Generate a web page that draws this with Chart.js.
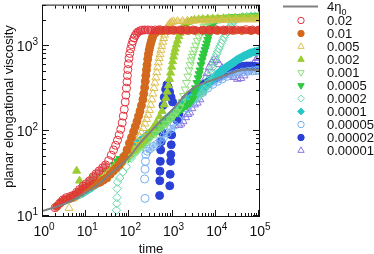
<!DOCTYPE html>
<html>
<head>
<meta charset="utf-8">
<script src="https://cdn.jsdelivr.net/npm/chart.js"></script>
<style>
    html, body { margin: 0; background: #fff; }
    #wrap { width: 374px; height: 254px; }
</style>
</head>
<body>
<div id="wrap"><canvas id="chart" width="374" height="254"></canvas></div>
<script>
// [time, planar elongational viscosity]
const envelope = [[1, 11.5], [2, 12.8], [3, 13.8], [5, 15.5], [10, 19], [20, 24], [30, 29], [50, 36], [100, 50], [176, 72], [300, 97], [500, 128], [750, 155], [1000, 178], [1750, 250], [3000, 320], [5000, 365], [10000, 410], [20000, 470], [50000, 530], [100000, 525]];

const s002 = [[1.9, 12.5], [2.4, 14], [2.9, 15.5], [3.5, 16.5], [4.3, 17], [5, 17.5], [6, 19], [7, 20.5], [8.5, 22.5], [10, 24], [12, 26], [14.5, 29], [17, 31.5], [20, 34], [24, 37], [28, 40], [33, 45], [38, 52], [43, 60], [48, 68], [53, 78], [58, 90], [63, 105], [68, 125], [72, 150], [76, 180], [80, 220], [83, 265], [86, 320], [88, 380], [90, 450], [92, 530], [95, 620], [98, 720], [102, 820], [107, 930], [113, 1040], [120, 1150], [128, 1250], [137, 1340], [148, 1420], [162, 1480], [180, 1520], [200, 1540], [230, 1550], [270, 1550], [320, 1545], [400, 1550], [500, 1555], [700, 1550], [1000, 1545], [1500, 1550], [2000, 1555], [3000, 1550], [5000, 1545], [7000, 1550], [10000, 1555], [15000, 1550], [20000, 1545], [30000, 1550], [50000, 1555], [70000, 1550], [100000, 1550]];

const s001 = [[2.1, 13], [2.6, 14.5], [3.2, 15.5], [4, 16], [4.7, 16.5], [5.5, 17.5], [6.5, 18.5], [8, 20], [10, 21.5], [12.5, 22.5], [15, 23.5], [18, 24.5], [21, 25], [25, 26.5], [30, 28], [36, 31], [43, 34], [50, 37], [58, 40], [66, 44], [75, 50], [88, 60], [100, 72], [112, 84], [125, 98], [137, 113], [150, 130], [163, 150], [176, 172], [190, 200], [205, 235], [215, 275], [225, 325], [233, 385], [240, 450], [248, 525], [255, 600], [265, 700], [275, 800], [287, 900], [300, 1000], [315, 1100], [330, 1200], [345, 1290], [360, 1360], [380, 1420], [400, 1460], [425, 1490], [450, 1510], [500, 1525], [600, 1525], [800, 1530], [1100, 1535], [1600, 1530], [2300, 1525], [3300, 1530], [5000, 1535], [7500, 1530], [11000, 1530], [16000, 1525], [25000, 1530], [40000, 1530], [65000, 1525], [100000, 1530]];

const s0005 = [[4, 12.4], [5, 16], [6.5, 17.5], [8, 19], [10, 20.5], [13, 22], [16, 24], [20, 26], [25, 28], [30, 30.5], [37, 33], [45, 36], [55, 39], [65, 43], [75, 47], [88, 52], [100, 57], [115, 63], [130, 70], [150, 78], [170, 86], [190, 96], [210, 108], [230, 122], [250, 138], [270, 155], [290, 176], [310, 203], [330, 235], [350, 275], [370, 320], [390, 370], [410, 425], [430, 490], [450, 560], [470, 640], [490, 720], [510, 800], [535, 900], [560, 1000], [590, 1120], [620, 1240], [650, 1360], [690, 1500], [740, 1640], [800, 1760], [870, 1860], [950, 1920], [1050, 1950], [1300, 1960], [1700, 1970], [2200, 1980], [3000, 1990], [4000, 2000], [5500, 2000], [7500, 2010], [10000, 2020], [14000, 2030], [20000, 2030], [30000, 2040], [45000, 2050], [70000, 2050], [100000, 2060]];

const s0002 = [[6, 34], [7, 26], [8, 21], [10, 22], [13, 23.5], [17, 25.5], [22, 28], [28, 31], [35, 34], [45, 38], [60, 43], [80, 48], [100, 53], [130, 60], [170, 68], [220, 78], [280, 92], [350, 108], [420, 125], [500, 148], [570, 172], [640, 205], [700, 245], [750, 290], [800, 345], [850, 410], [900, 485], [950, 570], [1000, 660], [1050, 750], [1100, 840], [1150, 930], [1220, 1040], [1300, 1160], [1400, 1300], [1500, 1430], [1650, 1580], [1800, 1710], [2000, 1820], [2300, 1920], [2700, 1990], [3200, 2030], [4000, 2060], [5000, 2080], [6500, 2100], [8500, 2110], [11000, 2120], [15000, 2130], [20000, 2140], [28000, 2150], [40000, 2160], [60000, 2170], [100000, 2180]];

const s0001 = [[9, 22], [12, 26], [15, 29], [18, 27], [22, 30], [27, 33], [33, 35], [40, 34], [55, 39], [75, 44], [100, 50], [140, 57], [200, 66], [280, 78], [400, 93], [550, 108], [700, 122], [870, 138], [1050, 152], [1250, 168], [1480, 190], [1650, 220], [1800, 260], [1950, 310], [2100, 370], [2250, 440], [2400, 520], [2550, 600], [2700, 680], [2850, 750], [3000, 820], [3200, 910], [3450, 1020], [3750, 1150], [4050, 1280], [4400, 1410], [4800, 1540], [5300, 1680], [5900, 1810], [6600, 1920], [7500, 2010], [8500, 2060], [10000, 2090], [13000, 2110], [17000, 2130], [22000, 2150], [30000, 2160], [40000, 2170], [55000, 2180], [75000, 2190], [100000, 2200]];

const s00005 = [[18, 25], [22, 29], [27, 33], [32, 31], [38, 36], [45, 40], [52, 44], [60, 47], [68, 42], [75, 50], [85, 53], [95, 48], [110, 55], [130, 60], [170, 66], [230, 75], [320, 88], [450, 102], [600, 117], [800, 133], [1050, 150], [1350, 168], [1700, 185], [2100, 200], [2500, 215], [2950, 240], [3200, 280], [3400, 320], [3650, 370], [3900, 420], [4100, 470], [4300, 520], [4550, 600], [4800, 680], [5050, 750], [5300, 820], [5600, 900], [5900, 980], [6200, 1080], [6500, 1190], [6800, 1310], [7100, 1440], [7500, 1580], [8000, 1730], [8700, 1880], [9500, 1980], [10500, 2050], [12000, 2100], [15000, 2140], [20000, 2170], [27000, 2190], [36000, 2210], [50000, 2220], [70000, 2240], [100000, 2250]];

const s00002 = [[50, 11.7], [51, 14], [52, 16.5], [52, 21], [53, 25], [60, 28], [70, 33], [85, 38], [110, 48], [150, 58], [200, 68], [300, 86], [450, 108], [700, 132], [1000, 155], [1500, 185], [2200, 210], [3000, 232], [4000, 255], [5000, 285], [5600, 310], [6200, 350], [6800, 400], [7300, 450], [7800, 500], [8300, 560], [8800, 620], [9300, 680], [9800, 740], [10400, 800], [11000, 860], [11700, 930], [12500, 1000], [13400, 1080], [14400, 1170], [15500, 1270], [16800, 1380], [18200, 1490], [19800, 1600], [21600, 1710], [23800, 1830], [26500, 1950], [30000, 2060], [35000, 2150], [42000, 2210], [52000, 2240], [65000, 2260], [80000, 2270], [100000, 2280]];

const s00001 = [[3, 15], [5, 16.5], [8, 18.5], [12, 21], [20, 25], [30, 30], [45, 37], [70, 47], [100, 58], [115, 64], [130, 68], [150, 72], [175, 76], [200, 80], [250, 88], [300, 95], [370, 103], [450, 112], [550, 122], [650, 132], [800, 145], [1000, 160], [1250, 178], [1500, 195], [1800, 212], [2200, 230], [2700, 248], [3300, 268], [4000, 290], [5000, 318], [6200, 350], [7600, 390], [9200, 430], [11000, 470], [13500, 510], [16500, 550], [20000, 590], [24500, 630], [30000, 680], [36000, 720], [44000, 760], [53000, 795], [64000, 830], [78000, 855], [100000, 880]];

const s000005 = [[230, 16.1], [225, 27.3], [230, 35.5], [235, 44], [240, 53], [260, 58], [300, 62], [360, 66], [430, 70], [520, 77], [620, 85], [750, 95], [900, 105], [1100, 117], [1350, 135], [1700, 158], [2200, 185], [2900, 215], [3800, 250], [5000, 285], [6500, 320], [8500, 355], [11000, 385], [14000, 410], [18000, 440], [24000, 460], [32000, 480], [42000, 495], [55000, 505], [70000, 510], [85000, 515], [100000, 520]];

const s000002 = [[500, 17.4], [505, 26], [510, 33.7], [520, 44], [530, 60], [545, 75], [570, 97], [860, 22.7], [880, 31], [900, 44], [910, 53], [930, 69], [950, 90], [600, 200], [640, 250], [690, 310], [740, 350], [790, 330], [850, 290], [920, 250], [1000, 220], [1100, 150], [1250, 135], [1400, 160], [1550, 190], [1750, 215], [2000, 235], [2300, 250], [2700, 270], [3200, 290], [3800, 310], [4500, 330], [5300, 350], [6200, 370], [7300, 390], [8600, 410], [10000, 425], [12000, 445], [14500, 470], [17500, 495], [21000, 520], [25000, 540], [30000, 555], [36000, 565], [43000, 575], [52000, 580], [62000, 580], [75000, 575], [88000, 565], [100000, 560]];

const s000001 = [[1400, 117], [1550, 122], [1750, 130], [2000, 145], [2250, 158], [2500, 165], [2800, 185], [3200, 205], [3700, 215], [4300, 235], [4800, 290], [5300, 350], [5800, 420], [6300, 480], [7000, 560], [8000, 640], [9000, 690], [10500, 680], [12000, 610], [14000, 550], [17000, 500], [21000, 460], [26000, 430], [32000, 410], [38000, 420], [45000, 450], [55000, 500], [65000, 560], [75000, 620], [85000, 680], [95000, 740], [100000, 720]];

const rateLabels = ["0.02", "0.01", "0.005", "0.002", "0.001", "0.0005", "0.0002", "0.0001", "0.00005", "0.00002", "0.00001"];
const rateSeries = [s002, s001, s0005, s0002, s0001, s00005, s00002, s00001, s000005, s000002, s000001];
const xDecades = [0, 1, 2, 3, 4, 5];
const yDecades = [1, 2, 3];

const FONT = '"Liberation Sans", Arial, Helvetica, sans-serif';

const looks = [
    { color: "#e0323c", shape: "circle", turn: 0, filled: false, size: 4, band: 6 },
    { color: "#d2691e", shape: "circle", turn: 0, filled: true, size: 4, band: 6 },
    { color: "#dcc050", shape: "triangle", turn: 0, filled: false, size: 4.6, band: 5 },
    { color: "#9acd32", shape: "triangle", turn: 0, filled: true, size: 4.6, band: 6 },
    { color: "#8ce07a", shape: "triangle", turn: 180, filled: false, size: 4.6, band: 5 },
    { color: "#2ec840", shape: "triangle", turn: 180, filled: true, size: 4.6, band: 6 },
    { color: "#66d8aa", shape: "rectRot", turn: 0, filled: false, size: 4.2, band: 5 },
    { color: "#26c6c8", shape: "rectRot", turn: 0, filled: true, size: 4.2, band: 8 },
    { color: "#74aef0", shape: "circle", turn: 0, filled: false, size: 4, band: 4 },
    { color: "#2a40d6", shape: "circle", turn: 0, filled: true, size: 4, band: 9 },
    { color: "#8c74e0", shape: "triangle", turn: 0, filled: false, size: 4.6, band: 0 }
];

function toPoints(pairs) {
    return pairs.map(([x, y]) => ({ x, y }));
}

// thick band only between neighbouring points on a flat stretch
function bandColor(ctx) {
    const dx = ctx.p1.x - ctx.p0.x;
    const dy = ctx.p1.y - ctx.p0.y;
    const flat = dx > 0 && Math.abs(dy) <= dx * 1.2 && Math.hypot(dx, dy) < 30;
    return flat ? undefined : "rgba(0,0,0,0)";
}

const datasets = [{
    label: "4η0",
    data: toPoints(envelope),
    borderColor: "#808080",
    borderWidth: 2,
    pointRadius: 0,
    cubicInterpolationMode: "monotone",
    clip: 0
}];

rateSeries.forEach((series, i) => {
    const look = looks[i];
    datasets.push({
        label: rateLabels[i],
        data: toPoints(series),
        borderColor: look.filled ? look.color : look.color + "a0",
        borderWidth: look.band,
        borderCapStyle: "round",
        borderJoinStyle: "round",
        showLine: look.band > 0,
        segment: { borderColor: bandColor },
        pointStyle: look.shape,
        pointRotation: look.turn,
        pointRadius: look.size,
        pointBorderWidth: 1,
        pointBorderColor: look.color,
        pointBackgroundColor: look.filled ? look.color : "rgba(0,0,0,0)",
        clip: 0
    });
});

function powerLabel(ctx, exp, x, baseline, align) {
    ctx.font = `14px ${FONT}`;
    const wBase = ctx.measureText("10").width;
    ctx.font = `10px ${FONT}`;
    const wExp = ctx.measureText(String(exp)).width;
    const left = align === "right" ? x - wBase - wExp : x - (wBase + wExp) / 2;
    ctx.textAlign = "left";
    ctx.textBaseline = "alphabetic";
    ctx.font = `14px ${FONT}`;
    ctx.fillText("10", left, baseline);
    ctx.font = `10px ${FONT}`;
    ctx.fillText(String(exp), left + wBase, baseline - 6);
}

const frame = {
    id: "frame",
    afterDatasetsDraw(chart) {
        const { ctx, chartArea: a, scales: { x, y } } = chart;
        ctx.save();
        ctx.strokeStyle = "#111";
        ctx.lineWidth = 1;
        ctx.strokeRect(a.left - 0.5, a.top - 0.5, a.right - a.left + 1, a.bottom - a.top + 1);

        ctx.beginPath();
        for (let e = xDecades[0]; e <= xDecades[xDecades.length - 1]; e++) {
            for (let m = 1; m <= 9; m++) {
                const v = m * 10 ** e;
                if (v > x.max) break;
                const px = Math.round(x.getPixelForValue(v)) - 0.5;
                const len = m === 1 ? 6 : 3;
                ctx.moveTo(px, a.bottom); ctx.lineTo(px, a.bottom - len);
                ctx.moveTo(px, a.top); ctx.lineTo(px, a.top + len);
            }
        }
        for (let e = yDecades[0]; e <= yDecades[yDecades.length - 1]; e++) {
            for (let m = 1; m <= 9; m++) {
                const v = m * 10 ** e;
                if (v > y.max) break;
                const py = Math.round(y.getPixelForValue(v)) - 0.5;
                const len = m === 1 ? 6 : 3;
                ctx.moveTo(a.left, py); ctx.lineTo(a.left + len, py);
                ctx.moveTo(a.right, py); ctx.lineTo(a.right - len, py);
            }
        }
        ctx.stroke();

        ctx.fillStyle = "#111";
        xDecades.forEach(e => powerLabel(ctx, e, x.getPixelForValue(10 ** e) + 1, 235.5, "center"));
        yDecades.forEach(e => powerLabel(ctx, e, 38, y.getPixelForValue(10 ** e) + 5, "right"));

        ctx.font = `13px ${FONT}`;
        ctx.textAlign = "center";
        ctx.textBaseline = "alphabetic";
        ctx.fillText("time", (a.left + a.right) / 2, 252.5);
        ctx.save();
        ctx.translate(12.5, 106.5);
        ctx.rotate(-Math.PI / 2);
        ctx.fillText("planar elongational viscosity", 0, 0);
        ctx.restore();

        // key
        ctx.strokeStyle = "#808080";
        ctx.lineWidth = 2;
        ctx.beginPath();
        ctx.moveTo(283, 6.5); ctx.lineTo(318, 6.5);
        ctx.stroke();
        ctx.textAlign = "left";
        ctx.font = `13px ${FONT}`;
        ctx.fillText("4η", 327, 10.5);
        const w = ctx.measureText("4η").width;
        ctx.font = `9px ${FONT}`;
        ctx.fillText("0", 327 + w, 14.5);

        ctx.font = `13px ${FONT}`;
        rateLabels.forEach((label, i) => {
            const look = looks[i];
            const cy = 7.5 + 13 * (i + 1);
            ctx.fillStyle = look.filled ? look.color : "rgba(0,0,0,0)";
            ctx.strokeStyle = look.color;
            ctx.lineWidth = 1;
            Chart.helpers.drawPoint(ctx, {
                pointStyle: look.shape,
                rotation: look.turn,
                radius: look.size * 0.8,
                borderWidth: 1
            }, 301, cy);
            ctx.fillStyle = "#111";
            ctx.fillText(label, 327, cy + 4.6);
        });
        ctx.restore();
    }
};

new Chart(document.getElementById("chart"), {
    type: "line",
    data: { datasets },
    options: {
        responsive: false,
        devicePixelRatio: 1,
        animation: false,
        events: [],
        layout: { padding: { left: 43, right: 115, top: 1, bottom: 38 } },
        plugins: { legend: { display: false }, tooltip: { enabled: false } },
        scales: {
            x: { type: "logarithmic", min: 1, max: 100000, display: false },
            y: { type: "logarithmic", min: 10, max: 3000, display: false }
        }
    },
    plugins: [frame]
});
</script>
</body>
</html>
